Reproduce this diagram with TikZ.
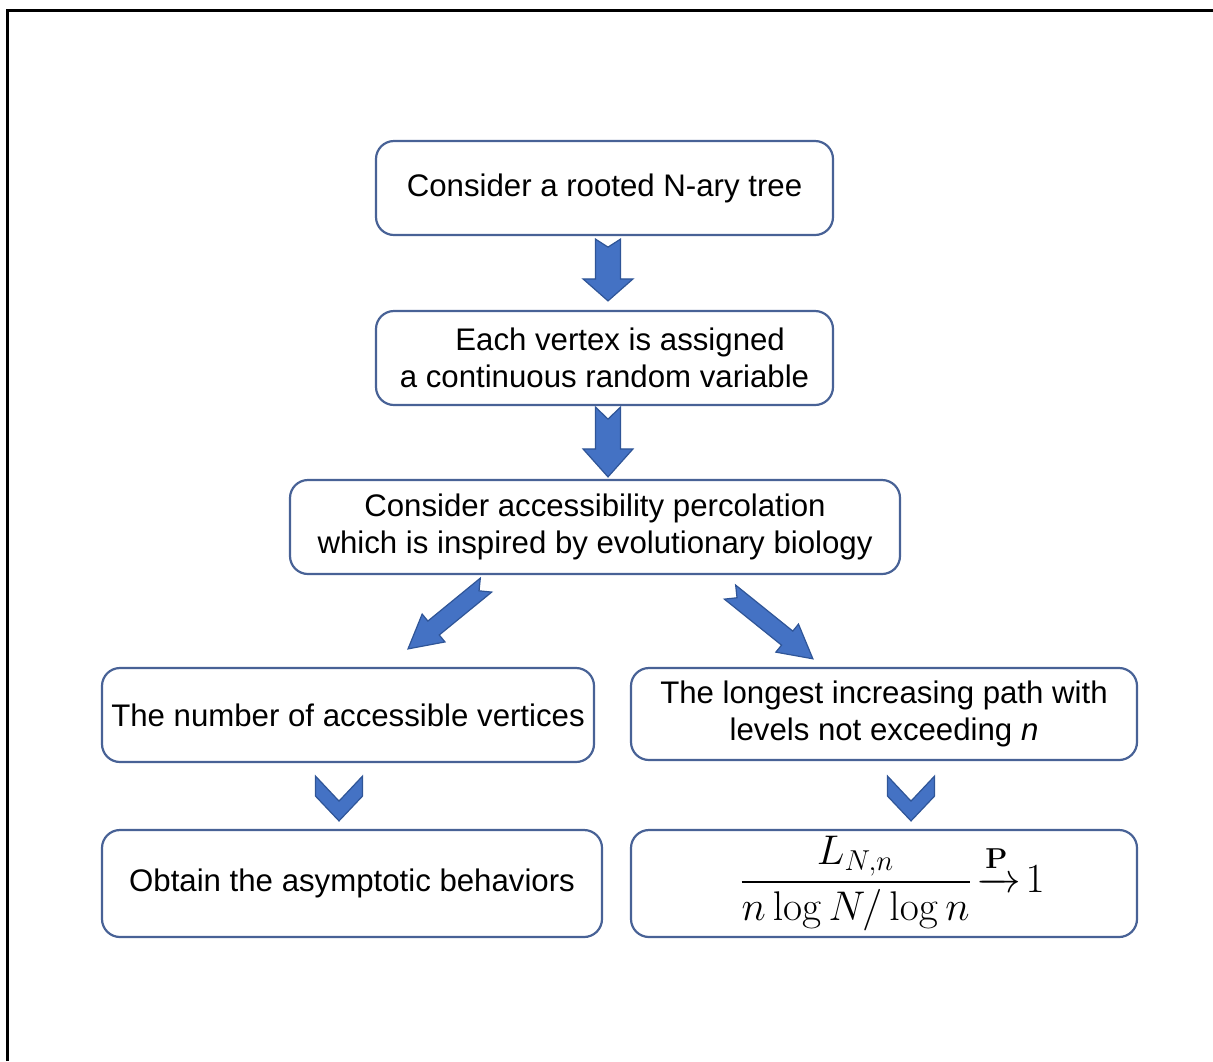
\documentclass[tikz,border=0pt]{standalone}
\usepackage{amsmath}
\usepackage[no-math]{fontspec}
\setmainfont{Liberation Sans}
\usetikzlibrary{calc}

\definecolor{boxblue}{RGB}{72,98,150}
\definecolor{arrowfill}{RGB}{68,114,196}
\definecolor{arrowline}{RGB}{47,85,151}

\tikzset{
  flowbox/.style={draw=boxblue, line width=1.1pt, rounded corners=9pt, align=center,
    inner sep=2pt, font=\fontsize{15.6}{18.5}\selectfont},
  blockfill/.style={fill=arrowfill, draw=arrowline, line width=0.6pt, line join=miter}
}

% tail, tip, shaft half width, head half width, head length, notch depth (px)
\newcommand{\blkarrow}[6]{%
  \path[blockfill] let \p1=(#1), \p2=(#2), \n1={atan2(\y2-\y1,\x2-\x1)},
      \n2={veclen(\x2-\x1,\y2-\y1)} in
    {[shift={(\p1)}, rotate=\n1]
     (0pt,{-#3*0.5pt}) -- ({\n2-#5*0.5pt},{-#3*0.5pt}) -- ({\n2-#5*0.5pt},{-#4*0.5pt})
     -- (\n2,0pt) -- ({\n2-#5*0.5pt},{#4*0.5pt}) -- ({\n2-#5*0.5pt},{#3*0.5pt})
     -- (0pt,{#3*0.5pt}) -- ({#6*0.5pt},0pt) -- cycle};
}

% top, tip, half width, notch depth, side length (px)
\newcommand{\chevarrow}[5]{%
  \path[blockfill] let \p1=(#1), \p2=(#2), \n1={atan2(\y2-\y1,\x2-\x1)},
      \n2={veclen(\x2-\x1,\y2-\y1)} in
    {[shift={(\p1)}, rotate=\n1]
     (0pt,{-#3*0.5pt}) -- ({#4*0.5pt},0pt) -- (0pt,{#3*0.5pt}) -- ({#5*0.5pt},{#3*0.5pt})
     -- (\n2,0pt) -- ({#5*0.5pt},{-#3*0.5pt}) -- cycle};
}

\begin{document}
\begin{tikzpicture}[x=0.5pt, y=-0.5pt]
  \useasboundingbox (0,0) rectangle (1213,1061);
  \path[draw, line width=1.5pt] (7,1061) -- (7,10) -- (1213,10);

  \node[flowbox, minimum width=228.5pt, minimum height=47pt] (tree) at (604.5,188)
    {Consider a rooted N-ary tree};
  \node[flowbox, minimum width=228.5pt, minimum height=47pt] (vertex) at (604.5,358)
    {\hspace*{1em}Each vertex is assigned\\a continuous random variable};
  \node[flowbox, minimum width=305pt, minimum height=47pt] (percol) at (595,527)
    {Consider accessibility percolation\\which is inspired by evolutionary biology};
  \node[flowbox, minimum width=246pt, minimum height=47pt] (number) at (348,715)
    {The number of accessible vertices};
  \node[flowbox, minimum width=253pt, minimum height=46pt] (longest) at (884,714)
    {The longest increasing path with\\levels not exceeding \textit{n}};
  \node[flowbox, minimum width=250pt, minimum height=53.5pt] (asymp) at (352,883.5)
    {Obtain the asymptotic behaviors};
  \node[flowbox, minimum width=253pt, minimum height=53.5pt, font=\fontsize{20}{24}\selectfont]
    (limit) at (884,883.5)
    {\hspace*{8pt}$\dfrac{L_{N,n}}{n\log N/\log n}\!\xrightarrow{\mathbf{P}}\!1$};

  \blkarrow{$(tree.south)+(3.5,3)$}{$(vertex.north)+(3.5,-9)$}{12.5}{25}{22}{8}
  \blkarrow{$(vertex.south)+(3.5,1)$}{$(percol.north)+(13,-2)$}{12.5}{25}{28}{12}
  \blkarrow{$(percol.south)+(-109,10)$}{$(number.north)+(60,-18)$}{9}{18}{33}{9}
  \blkarrow{$(percol.south)+(135,17)$}{$(longest.north)+(-71,-8)$}{9}{18}{33}{9}
  \chevarrow{$(number.south)+(-9,13)$}{$(asymp.north)+(-13,-8)$}{23.5}{25}{20}
  \chevarrow{$(longest.south)+(27,15)$}{$(limit.north)+(27,-8)$}{23.5}{25}{20}
\end{tikzpicture}
\end{document}
